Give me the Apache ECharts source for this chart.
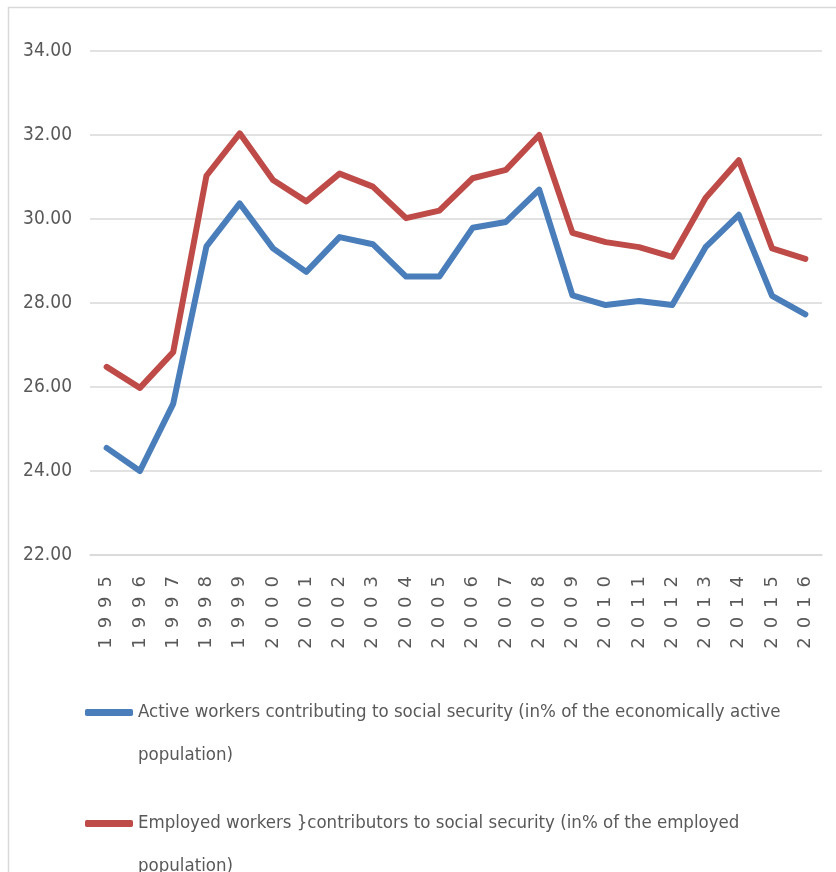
<!DOCTYPE html>
<html>
<head>
<meta charset="utf-8">
<script src="https://cdn.jsdelivr.net/npm/echarts@6/dist/echarts.min.js"></script>
<style>
  html, body { margin: 0; padding: 0; background: #ffffff; }
  #chart { width: 836px; height: 872px; }
</style>
</head>
<body>
<div id="chart"></div>
<script>
// Years on the category axis
const years = ['1995', '1996', '1997', '1998', '1999', '2000', '2001', '2002', '2003', '2004', '2005',
  '2006', '2007', '2008', '2009', '2010', '2011', '2012', '2013', '2014', '2015', '2016'];

// Active workers contributing to social security (% of economically active population)
const activeContrib = [24.55, 24.00, 25.60, 29.35, 30.37, 29.30, 28.74, 29.57, 29.40, 28.63, 28.63,
  29.79, 29.93, 30.70, 28.18, 27.95, 28.05, 27.95, 29.33, 30.10, 28.17, 27.73];

// Employed workers contributing to social security (% of employed population)
const employedContrib = [26.48, 25.98, 26.83, 31.03, 32.04, 30.93, 30.42, 31.08, 30.77, 30.02, 30.20,
  30.97, 31.17, 32.00, 29.67, 29.45, 29.33, 29.10, 30.50, 31.40, 29.30, 29.05];

const seriesNames = [
  'Active workers contributing to social security (in% of the economically active population)',
  'Employed workers }contributors to social security (in% of the employed population)'
];

// Value axis range
const yMin = 22, yMax = 34, yStep = 2;

const narrow = '"DejaVu Sans Condensed", "Liberation Sans Narrow", "Liberation Sans", sans-serif';
const textGray = '#595959';
const gridGray = '#d9d9d9';

const chart = echarts.init(document.getElementById('chart'), null, { renderer: 'canvas' });

// One legend block per series; the leading empty line keeps the first
// text line level with the swatch while the label wraps below it.
function legendFor(name, top) {
  return {
    data: [name],
    left: 85,
    top: top,
    padding: 0,
    orient: 'vertical',
    icon: 'roundRect',
    itemWidth: 48,
    itemHeight: 7,
    itemGap: 0,
    itemTextGap: 4,
    selectedMode: false,
    formatter: n => '\n' + n,
    textStyle: {
      fontFamily: narrow,
      fontSize: 18.5,
      color: textGray,
      width: 660,
      overflow: 'break',
      lineHeight: 43
    }
  };
}

chart.setOption({
  backgroundColor: '#ffffff',
  animation: false,
  graphic: [{
    type: 'rect',
    shape: { x: 8.5, y: 7.5, width: 900, height: 900 },
    style: { fill: 'none', stroke: gridGray, lineWidth: 1.5 },
    silent: true
  }],
  grid: { left: 90, right: 14, top: 51, bottom: 317, containLabel: false },
  legend: [legendFor(seriesNames[0], 648), legendFor(seriesNames[1], 759)],
  xAxis: {
    type: 'category',
    data: years,
    boundaryGap: true,
    axisLine: { lineStyle: { color: gridGray, width: 1.5 } },
    axisTick: { show: false },
    axisLabel: {
      rotate: 90,
      margin: 21,
      interval: 0,
      fontFamily: '"DejaVu Sans", sans-serif',
      fontSize: 18,
      color: textGray,
      formatter: v => v.split('').join('\u2002')
    }
  },
  yAxis: {
    type: 'value',
    min: yMin,
    max: yMax,
    interval: yStep,
    axisLine: { show: false },
    axisTick: { show: false },
    splitLine: { lineStyle: { color: gridGray, width: 1.5 } },
    axisLabel: {
      margin: 18,
      fontFamily: narrow,
      fontSize: 19,
      color: textGray,
      formatter: v => v.toFixed(2)
    }
  },
  series: [
    {
      name: seriesNames[0],
      type: 'line',
      data: activeContrib,
      symbol: 'none',
      lineStyle: { color: '#4A7EBB', width: 6, join: 'round', cap: 'round' },
      itemStyle: { color: '#4A7EBB' }
    },
    {
      name: seriesNames[1],
      type: 'line',
      data: employedContrib,
      symbol: 'none',
      lineStyle: { color: '#BE4B48', width: 6, join: 'round', cap: 'round' },
      itemStyle: { color: '#BE4B48' }
    }
  ]
});
</script>
</body>
</html>
